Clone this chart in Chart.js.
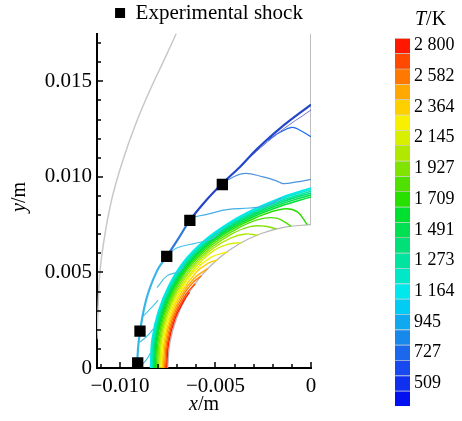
<!DOCTYPE html>
<html>
<head>
<meta charset="utf-8">
<script src="https://cdn.jsdelivr.net/npm/chart.js@4.4.0/dist/chart.umd.min.js"></script>
<style>
body { margin: 0; background: #fff; }
#wrap { position: relative; width: 462px; height: 421px; }
#main { position: absolute; left: 0; top: 0; }
#bar { position: absolute; left: 380px; top: 0; }
</style>
</head>
<body>
<div id="wrap">
  <canvas id="main" width="418" height="421"></canvas>
  <canvas id="bar" width="82" height="421"></canvas>
</div>
<script>
// ---- data (lengths in mm, angles in degrees from the stagnation line) ----

// measured shock position
var expX = [-9.07, -8.95, -7.55, -6.34, -4.64];
var expY = [0.27, 1.93, 5.84, 7.72, 9.60];

// computed shock front
var shockX = [-9.11, -9.01, -8.64, -8.06, -7.54, -6.96, -6.34, -5.55, -4.66, -3.72, -2.83, -1.62, 0];
var shockY = [0, 1.45, 3.52, 5.08, 5.85, 6.74, 7.72, 8.70, 9.64, 10.52, 11.45, 12.54, 13.78];
var shockInner = [[-3.3, 10.95], [-1.6, 12.38], [0, 13.5]];

// low temperature isolines between shock and shock layer
var iso618 = [[-2.25, 11.92], [-1.62, 12.33], [-0.99, 12.59], [-0.58, 12.44], [0, 12.1]];
var iso727 = [[-4.55, 9.74], [-3.56, 10.17], [-2.51, 10.0], [-1.78, 9.78], [-1.47, 9.65], [-0.73, 9.74], [0, 9.87]];
var iso836 = [[-6.23, 7.88], [-5.29, 8.08], [-4.40, 8.29], [-3.19, 8.37], [-2.30, 8.50], [-1.56, 8.9]];
var iso945a = [[-7.49, 5.91], [-7.03, 6.28], [-5.98, 6.54], [-5.13, 6.80], [-4.7, 7.25]];
var iso945b = [[-8.06, 4.20], [-7.54, 4.82], [-6.86, 5.08], [-6.62, 5.5]];
var iso945c = [[-8.8, 2.7], [-8.4, 3.1], [-8.0, 3.55]];
var iso945d = [[-8.95, 1.35], [-8.55, 1.7], [-8.25, 2.05]];
var iso945e = [[-8.9, 0.1], [-8.6, 0.45], [-8.4, 0.8]];

// shock layer isolines, [angle, radius]
var iso1054 = [[0, 8.4], [10, 8.45], [20, 8.52], [30, 8.6], [40, 8.68], [50, 8.7], [60, 8.72], [70, 8.82], [80, 9.05], [90, 9.42]];
var iso1164 = [[0, 8.36], [10, 8.41], [20, 8.48], [30, 8.56], [40, 8.63], [50, 8.65], [60, 8.67], [70, 8.76], [80, 8.98], [90, 9.34]];
var iso1273 = [[0, 8.32], [10, 8.37], [20, 8.44], [30, 8.51], [40, 8.58], [50, 8.6], [60, 8.61], [70, 8.7], [80, 8.9], [90, 9.25]];
var iso1382 = [[0, 8.28], [10, 8.33], [20, 8.39], [30, 8.46], [40, 8.53], [50, 8.54], [60, 8.55], [70, 8.63], [80, 8.82], [90, 9.16]];
var iso1491 = [[0, 8.24], [10, 8.28], [20, 8.34], [30, 8.41], [40, 8.47], [50, 8.48], [60, 8.49], [70, 8.56], [80, 8.73], [90, 9.06]];
var iso1600 = [[0, 8.19], [10, 8.23], [20, 8.29], [30, 8.35], [40, 8.41], [50, 8.42], [60, 8.42], [70, 8.48], [80, 8.63], [90, 8.95]];
var iso1709 = [[0, 8.14], [10, 8.18], [20, 8.23], [30, 8.29], [40, 8.34], [50, 8.35], [60, 8.34], [70, 8.38], [80, 8.45], [85, 8.2], [88.5, 7.5]];
var iso1818 = [[0, 8.09], [10, 8.12], [20, 8.17], [30, 8.22], [40, 8.27], [50, 8.27], [60, 8.25], [70, 8.25], [77, 8.05], [82, 7.5]];
var iso1927 = [[0, 8.03], [10, 8.06], [20, 8.1], [30, 8.15], [40, 8.19], [50, 8.18], [60, 8.15], [67, 8.05], [72, 7.8], [76, 7.5]];
var iso2036 = [[0, 7.97], [10, 8.0], [20, 8.04], [30, 8.08], [40, 8.11], [50, 8.09], [58, 8.0], [64, 7.8], [68, 7.5]];
var iso2145 = [[0, 7.91], [10, 7.94], [20, 7.97], [30, 8.01], [40, 8.02], [50, 7.98], [56, 7.8], [61, 7.5]];
var iso2254 = [[0, 7.85], [10, 7.87], [20, 7.9], [30, 7.93], [40, 7.93], [48, 7.8], [54, 7.5]];
var iso2364 = [[0, 7.79], [10, 7.81], [20, 7.83], [30, 7.85], [40, 7.82], [45, 7.7], [49, 7.5]];
var iso2473 = [[0, 7.73], [10, 7.75], [20, 7.76], [30, 7.77], [38, 7.7], [44, 7.5]];
var iso2582 = [[0, 7.67], [10, 7.68], [20, 7.7], [30, 7.69], [36, 7.62], [40, 7.5]];
var iso2691 = [[0, 7.61], [10, 7.62], [20, 7.63], [30, 7.6], [36, 7.5]];
var iso2800 = [[0, 7.56], [10, 7.57], [20, 7.57], [28, 7.53], [32, 7.5]];

var bandLevels = [1054, 1164, 1273, 1382, 1491, 1600, 1709, 1818, 1927, 2036, 2145, 2254, 2364, 2473, 2582, 2691, 2800];
var bandLines = [iso1054, iso1164, iso1273, iso1382, iso1491, iso1600, iso1709, iso1818, iso1927, iso2036, iso2145, iso2254, iso2364, iso2473, iso2582, iso2691, iso2800];

// geometry: sphere wall, outer domain boundary, symmetry edge
var wallR = 7.5;
var wallAngles = [0, 10, 20, 30, 40, 50, 60, 70, 80, 90];
var domainEdge = [[-11.2, 1.5], [-11.15, 3.0], [-11.05, 5.0], [-10.8, 6.9], [-10.42, 8.86], [-9.9, 10.7], [-9.2, 12.7], [-8.4, 14.6], [-7.6, 16.3], [-7.05, 17.5]];
var axisEdge = [[0, 7.5], [0, 17.5]];

// axes
var xTickVals = [-0.010, -0.005, 0];
var yTickVals = [0, 0.005, 0.010, 0.015];
var tempTicks = [2800, 2582, 2364, 2145, 1927, 1709, 1491, 1273, 1164, 945, 727, 509];

// ---- styles ----
var jet = ['#0010f0', '#1030f0', '#1848f0', '#1c68ec', '#1888ea', '#10a8ee', '#00ccf4', '#00e8ec',
           '#00e8c8', '#00e4a0', '#00e078', '#00e050', '#00e030', '#28e000', '#50e000', '#80e400',
           '#b0e800', '#d8f000', '#f8f000', '#ffd000', '#ffa800', '#ff7800', '#ff4800', '#ff1800'];
var serif = 'Liberation Serif';

function levelColor(T) {
    var i = Math.round((T - 509) / 109.1) + 2;
    return jet[Math.max(0, Math.min(jet.length - 1, i))];
}

function cart(pts) {
    return pts.map(function (p) { return { x: p[0] / 1000, y: p[1] / 1000 }; });
}

function polar(pts) {
    return pts.map(function (p) {
        var a = p[0] * Math.PI / 180;
        return { x: -p[1] * Math.cos(a) / 1000, y: p[1] * Math.sin(a) / 1000 };
    });
}

function zip(a, b) {
    return a.map(function (v, i) { return [v, b[i]]; });
}

function line(points, color, width) {
    return {
        data: points, showLine: true, borderColor: color, borderWidth: width || 1.2,
        pointRadius: 0, tension: 0.4, fill: false
    };
}

function buildDatasets() {
    var ds = [];
    ds.push({
        label: 'Experimental shock', data: cart(zip(expX, expY)), showLine: false,
        pointStyle: 'rect', pointRadius: 8, backgroundColor: '#000', borderColor: '#000', borderWidth: 0
    });

    var shock = line(cart(zip(shockX, shockY)), '#2446c8', 2.2);
    shock.segment = {
        borderColor: function (c) {
            var y = (c.p0.parsed.y + c.p1.parsed.y) * 500;
            return y < 5.5 ? '#36b6e6' : (y < 7.6 ? '#2f7ad8' : '#2446c8');
        }
    };
    ds.push(shock);
    ds.push(line(cart(shockInner), '#6f72d8', 1));

    ds.push(line(cart(iso618), levelColor(618), 1.2));
    ds.push(line(cart(iso727), '#4d94dc', 1.2));
    ds.push(line(cart(iso836), '#44aee6', 1.2));
    [iso945a, iso945b, iso945c, iso945d, iso945e].forEach(function (p) {
        ds.push(line(cart(p), '#40c4e8', 1.1));
    });

    bandLines.forEach(function (p, i) {
        ds.push(line(polar(p), levelColor(bandLevels[i]), i < 6 ? 1.6 : 1.4));
    });

    ds.push(line(polar(wallAngles.map(function (a) { return [a, wallR]; })), '#b4b4b4', 1.2));
    ds.push(line(cart(domainEdge), '#c8c8c8', 1.5));
    ds.push(line(cart(axisEdge), '#bdbdbd', 2));
    return ds;
}

function fmtAxis(v) {
    if (Math.abs(v) < 1e-9) return '0';
    return (v < 0 ? '\u2212' : '') + Math.abs(v).toFixed(3);
}

function fmtTemp(t) {
    return t >= 1000 ? Math.floor(t / 1000) + ' ' + String(t % 1000).padStart(3, '0') : String(t);
}

// draws "italic + regular" text centred on (x, y)
function drawMixed(ctx, x, y, ital, rest, size) {
    var fi = 'italic ' + size + 'px "' + serif + '"', fr = size + 'px "' + serif + '"';
    ctx.font = fi; var w1 = ctx.measureText(ital).width;
    ctx.font = fr; var w2 = ctx.measureText(rest).width;
    var x0 = x - (w1 + w2) / 2;
    ctx.textAlign = 'left'; ctx.textBaseline = 'middle'; ctx.fillStyle = '#000';
    ctx.font = fi; ctx.fillText(ital, x0, y);
    ctx.font = fr; ctx.fillText(rest, x0 + w1, y);
}

// inward major/minor ticks every 0.001 m
var innerTicks = {
    id: 'innerTicks',
    afterDraw: function (chart) {
        var ctx = chart.ctx, a = chart.chartArea, xs = chart.scales.x, ys = chart.scales.y;
        ctx.save();
        ctx.strokeStyle = '#000'; ctx.lineWidth = 1.5;
        for (var i = 0; i <= 11; i++) {
            var px = Math.round(xs.getPixelForValue(-i / 1000));
            var len = i % 5 === 0 ? 6 : 4;
            ctx.beginPath(); ctx.moveTo(px, a.bottom); ctx.lineTo(px, a.bottom - len); ctx.stroke();
        }
        for (var j = 0; j <= 17; j++) {
            var py = Math.round(ys.getPixelForValue(j / 1000));
            var l = j % 5 === 0 ? 6 : 4;
            ctx.beginPath(); ctx.moveTo(a.left, py); ctx.lineTo(a.left + l, py); ctx.stroke();
        }
        ctx.restore();
    }
};

var axisTitles = {
    id: 'axisTitles',
    afterDraw: function (chart) {
        var ctx = chart.ctx, a = chart.chartArea;
        ctx.save();
        drawMixed(ctx, (a.left + a.right) / 2, 405, 'x', '/m', 20);
        ctx.translate(20, 197);
        ctx.rotate(-Math.PI / 2);
        drawMixed(ctx, 0, 0, 'y', '/m', 20);
        ctx.restore();
    }
};

var tickFont = { family: serif, size: 21 };

var mainChart = new Chart(document.getElementById('main'), {
    type: 'scatter',
    data: { datasets: buildDatasets() },
    options: {
        responsive: false,
        animation: false,
        layout: { padding: 0 },
        plugins: {
            legend: {
                position: 'top',
                align: 'center',
                labels: {
                    filter: function (item) { return item.text === 'Experimental shock'; },
                    usePointStyle: true,
                    pointStyleWidth: 10,
                    boxHeight: 10,
                    padding: 2.5,
                    color: '#000',
                    font: { family: serif, size: 21 }
                }
            },
            tooltip: { enabled: false }
        },
        scales: {
            x: {
                type: 'linear', min: -0.0112, max: 0, z: 1,
                grid: { display: false, drawTicks: false },
                border: { display: true, color: '#000', width: 2 },
                ticks: { autoSkip: false, maxRotation: 0, padding: 6, color: '#000', font: tickFont, callback: fmtAxis },
                afterBuildTicks: function (s) { s.ticks = xTickVals.map(function (v) { return { value: v }; }); },
                afterFit: function (s) { s.height = 53; }
            },
            y: {
                type: 'linear', min: 0, max: 0.0175, z: 1,
                grid: { display: false, drawTicks: false },
                border: { display: true, color: '#000', width: 2 },
                ticks: { autoSkip: false, padding: 5, color: '#000', font: tickFont, callback: fmtAxis },
                afterBuildTicks: function (s) { s.ticks = yTickVals.map(function (v) { return { value: v }; }); },
                afterFit: function (s) { s.width = 97; }
            },
            pad: {
                type: 'linear', position: 'right', display: true,
                grid: { display: false, drawTicks: false }, border: { display: false }, ticks: { display: false },
                afterFit: function (s) { s.width = 107; }
            }
        }
    },
    plugins: [innerTicks, axisTitles]
});

// colour bar
var barTitle = {
    id: 'barTitle',
    afterDraw: function (chart) {
        var ctx = chart.ctx;
        ctx.save();
        ctx.fillStyle = '#000'; ctx.textBaseline = 'middle'; ctx.textAlign = 'left';
        ctx.font = 'italic 20px "' + serif + '"';
        var w = ctx.measureText('T').width;
        ctx.fillText('T', 35, 20);
        ctx.font = '20px "' + serif + '"';
        ctx.fillText('/K', 35 + w, 20);
        ctx.restore();
    }
};

var barChart = new Chart(document.getElementById('bar'), {
    type: 'bar',
    data: {
        labels: [''],
        datasets: jet.map(function (c) {
            return {
                data: [1], backgroundColor: c, borderColor: 'rgba(0,0,0,0.16)',
                borderWidth: { top: 1, bottom: 0, left: 0, right: 0 }, borderSkipped: false,
                barPercentage: 1, categoryPercentage: 1
            };
        })
    },
    options: {
        responsive: false,
        animation: false,
        layout: { padding: { left: 15, top: 38, bottom: 9, right: 0 } },
        plugins: { legend: { display: false }, tooltip: { enabled: false } },
        scales: {
            x: { stacked: true, display: false },
            y: {
                stacked: true, position: 'right', min: 0, max: jet.length,
                grid: { display: false, drawTicks: false }, border: { display: false },
                ticks: {
                    autoSkip: false, padding: 4, color: '#000', font: { family: serif, size: 18 },
                    callback: function (v) {
                        var k = Math.round((v - 1.5) / 2);
                        return fmtTemp(tempTicks[tempTicks.length - 1 - k]);
                    }
                },
                afterBuildTicks: function (s) {
                    s.ticks = tempTicks.map(function (t, i) { return { value: 1.5 + 2 * i }; });
                },
                afterFit: function (s) { s.width = 52; }
            }
        }
    },
    plugins: [barTitle]
});
</script>
</body>
</html>
